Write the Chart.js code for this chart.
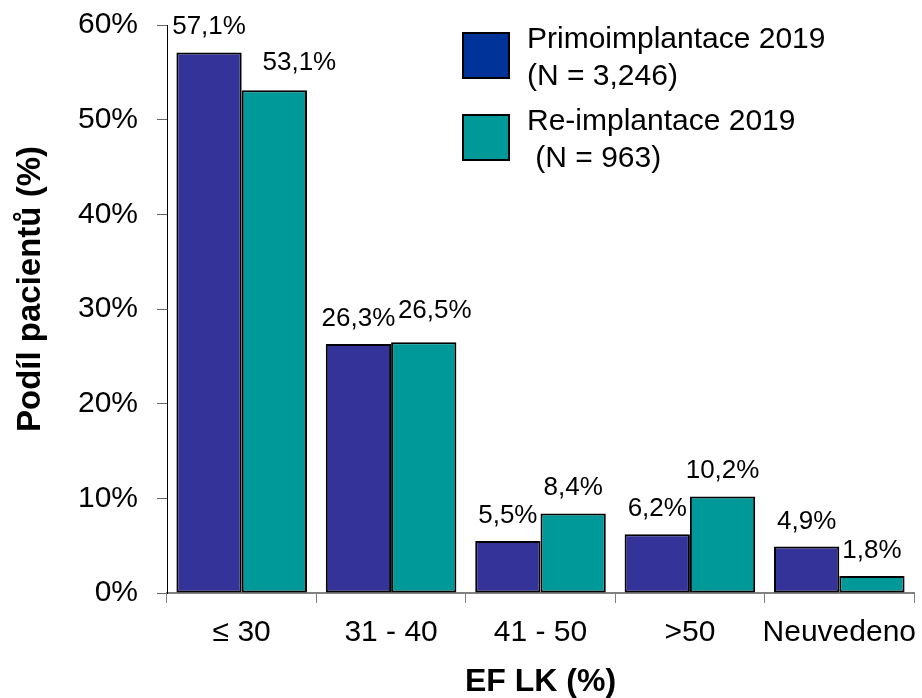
<!DOCTYPE html>
<html>
<head>
<meta charset="utf-8">
<script src="https://cdn.jsdelivr.net/npm/chart.js@4.4.0/dist/chart.umd.min.js"></script>
<style>
  html, body { margin: 0; padding: 0; background: #fff; }
  canvas { display: block; }
</style>
</head>
<body>
<canvas id="chart" width="922" height="698"></canvas>
<script>
const categories = ['≤ 30', '31 - 40', '41 - 50', '>50', 'Neuvedeno'];
const primo2019 = [57.1, 26.3, 5.5, 6.2, 4.9];
const reimpl2019 = [53.1, 26.5, 8.4, 10.2, 1.8];
const yTickMax = 60;
const yTickStep = 10;
const yTitle = 'Podíl pacientů (%)';
const legendLines = [
    ['Primoimplantace 2019', '(N = 3,246)'],
    ['Re-implantace 2019', ' (N = 963)']
];

// nudges for value labels that sit off-centre, per dataset / bar
const labelShift = [
    [[0, 0], [0, 0], [0, 0], [0, 0], [0, 0]],
    [[25, -2], [11, -6], [0, 0], [0, 0], [0, 0]]
];

const FONT = '"Liberation Sans", Arial, sans-serif';
const fmt = v => v.toFixed(1).replace('.', ',') + '%';

// pin the axis boxes so the plot area lands where it should
function fixBox(size) {
    return scale => {
        if (scale.isHorizontal()) scale.height = size;
        else scale.width = size;
        scale.paddingTop = 0;
        scale.paddingBottom = 0;
        scale.paddingLeft = 0;
        scale.paddingRight = 0;
    };
}

const valueLabels = {
    id: 'valueLabels',
    afterDatasetsDraw(chart) {
        const ctx = chart.ctx;
        ctx.save();
        ctx.font = '26px ' + FONT;
        ctx.fillStyle = '#000';
        ctx.textAlign = 'center';
        ctx.textBaseline = 'alphabetic';
        chart.data.datasets.forEach((ds, i) => {
            chart.getDatasetMeta(i).data.forEach((bar, j) => {
                const [dx, dy] = labelShift[i][j];
                ctx.fillText(fmt(ds.data[j]), bar.x + dx, bar.y - 18 + dy);
            });
        });
        ctx.restore();
    }
};

const sideTitle = {
    id: 'sideTitle',
    afterDraw(chart) {
        const ctx = chart.ctx;
        const area = chart.chartArea;
        ctx.save();
        ctx.translate(31, (area.top + area.bottom) / 2 - 20);
        ctx.rotate(-Math.PI / 2);
        ctx.font = 'bold 33px ' + FONT;
        ctx.fillStyle = '#000';
        ctx.textAlign = 'center';
        ctx.textBaseline = 'middle';
        ctx.fillText(yTitle, 0, 0);
        ctx.restore();
    }
};

const boxLegend = {
    id: 'boxLegend',
    afterDraw(chart) {
        const ctx = chart.ctx;
        const x0 = chart.chartArea.left + 296;
        const y0 = chart.chartArea.top + 8;
        ctx.save();
        ctx.font = '30px ' + FONT;
        ctx.textBaseline = 'alphabetic';
        ctx.textAlign = 'left';
        chart.data.datasets.forEach((ds, i) => {
            const top = y0 + i * 82;
            ctx.fillStyle = ds.legendColor;
            ctx.fillRect(x0, top, 46, 45);
            ctx.lineWidth = 2;
            ctx.strokeStyle = '#000';
            ctx.strokeRect(x0, top, 46, 45);
            ctx.fillStyle = '#000';
            legendLines[i].forEach((line, k) => {
                ctx.fillText(line, x0 + 64, top + 15 + k * 37);
            });
        });
        ctx.restore();
    }
};

new Chart(document.getElementById('chart'), {
    type: 'bar',
    data: {
        labels: categories,
        datasets: [
            {
                label: 'Primoimplantace 2019',
                data: primo2019,
                backgroundColor: '#333399',
                legendColor: '#003399',
                borderColor: '#000',
                borderWidth: 2,
                borderSkipped: false
            },
            {
                label: 'Re-implantace 2019',
                data: reimpl2019,
                backgroundColor: '#009999',
                legendColor: '#009999',
                borderColor: '#000',
                borderWidth: 2,
                borderSkipped: false
            }
        ]
    },
    options: {
        responsive: false,
        animation: false,
        categoryPercentage: 0.874,
        barPercentage: 1,
        layout: { padding: { top: 25, right: 8, left: 0, bottom: 0 } },
        plugins: {
            legend: { display: false },
            tooltip: { enabled: false }
        },
        scales: {
            x: {
                afterFit: fixBox(105),
                grid: {
                    offset: true,
                    drawOnChartArea: false,
                    drawTicks: true,
                    tickLength: 10,
                    color: '#808080'
                },
                border: { color: '#808080', width: 2 },
                ticks: {
                    color: '#000',
                    padding: 12,
                    maxRotation: 0,
                    autoSkip: false,
                    font: { family: FONT, size: 30 }
                },
                title: {
                    display: true,
                    text: 'EF LK (%)',
                    color: '#000',
                    padding: { top: 0, bottom: 0 },
                    font: { family: FONT, size: 32, weight: 'bold', lineHeight: 1 }
                }
            },
            y: {
                min: 0,
                max: yTickMax,
                afterFit: fixBox(167),
                grid: {
                    drawOnChartArea: false,
                    drawTicks: true,
                    tickLength: 10,
                    color: '#666'
                },
                border: { color: '#000', width: 1 },
                ticks: {
                    stepSize: yTickStep,
                    color: '#000',
                    padding: 19,
                    callback: v => v + '%',
                    font: { family: FONT, size: 30 }
                }
            }
        }
    },
    plugins: [valueLabels, sideTitle, boxLegend]
});
</script>
</body>
</html>
